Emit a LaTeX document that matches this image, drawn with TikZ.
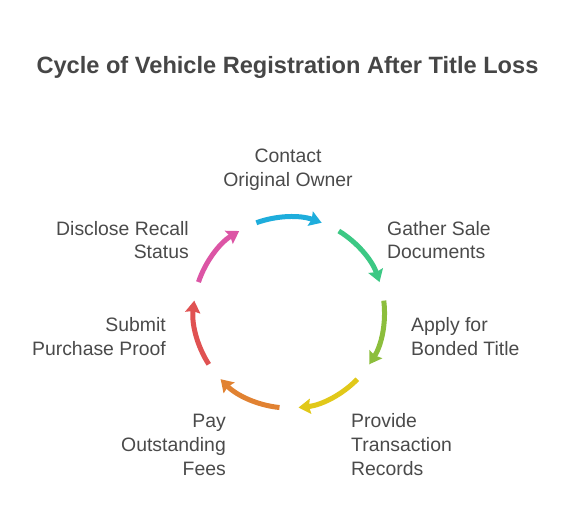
\documentclass[tikz,border=0pt]{standalone}
\usepackage{fontspec}
\setmainfont{Liberation Sans}
\usetikzlibrary{arrows.meta}
\definecolor{txt}{HTML}{4A4A4A}
\definecolor{ttl}{HTML}{464646}
\definecolor{c1}{HTML}{1EADDC}
\definecolor{c2}{HTML}{3CC884}
\definecolor{c3}{HTML}{8CBE3C}
\definecolor{c4}{HTML}{E1C819}
\definecolor{c5}{HTML}{E18232}
\definecolor{c6}{HTML}{E05252}
\definecolor{c7}{HTML}{DC55A5}
\begin{document}
\begin{tikzpicture}[x=1pt,y=1pt,
  lbl/.style={font=\fontsize{19.4}{24}\selectfont, text=txt, inner sep=0pt},
  arr/.style={line width=5pt, -{Stealth[length=12pt,width=15pt,inset=1.5pt]}}]
\useasboundingbox (0,0) rectangle (570,528);
\node[font=\bfseries\fontsize{23.6}{28}\selectfont, text=ttl, inner sep=0pt, anchor=base] (title) at (287.5,454) {Cycle of Vehicle Registration After Title Loss};
\coordinate (C) at (289,215.5);
\node[lbl, align=center, anchor=base] (s1) at (288,341) {Contact\\Original Owner};
\node[lbl, align=left, anchor=base west] (s2) at (387,269) {Gather Sale\\Documents};
\node[lbl, align=left, anchor=base west] (s3) at (411,173) {Apply for\\Bonded Title};
\node[lbl, align=left, anchor=base west] (s4) at (351,53) {Provide\\Transaction\\Records};
\node[lbl, align=right, anchor=base east] (s5) at (226,53) {Pay\\Outstanding\\Fees};
\node[lbl, align=right, anchor=base east] (s6) at (166,173) {Submit\\Purchase Proof};
\node[lbl, align=right, anchor=base east] (s7) at (189,269) {Disclose Recall\\Status};
\foreach \i/\col in {0/c1,1/c2,2/c3,3/c4,4/c5,5/c6,6/c7}{
  \pgfmathsetmacro\ang{90-\i*360/7}
  \draw[arr, draw=\col] ([shift={(\ang+20:95.5)}]C) arc[start angle=\ang+20, end angle=\ang-20, radius=95.5];
}
\end{tikzpicture}
\end{document}
